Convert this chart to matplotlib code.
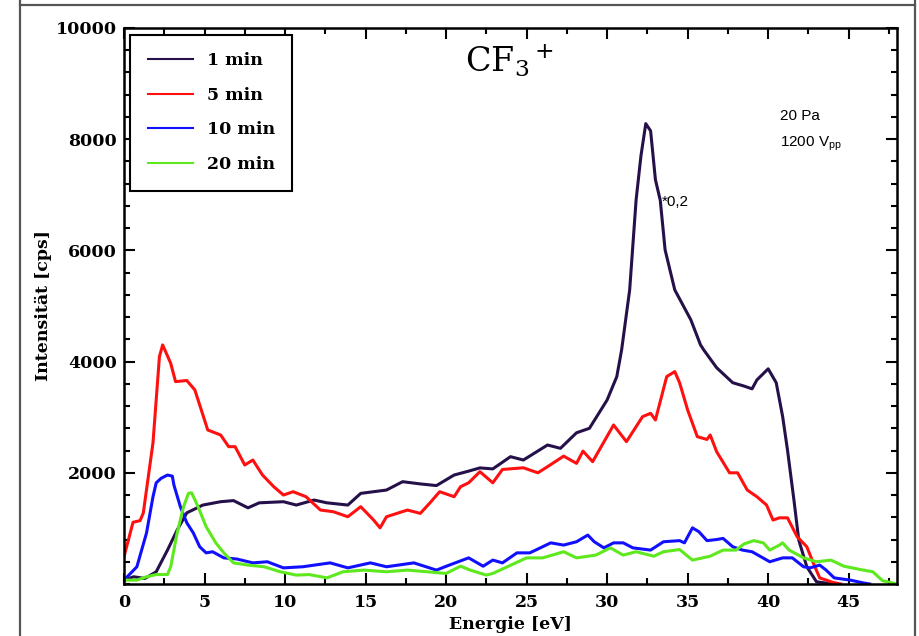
import matplotlib
matplotlib.use("Agg")
import matplotlib.pyplot as plt
from matplotlib.lines import Line2D
from matplotlib.ticker import MultipleLocator

# Energie [eV] / Intensitaet [cps]
e1 = [0, 0.6, 1.3, 2.0, 2.7, 3.3, 3.9, 4.9, 6.0, 6.8, 7.7, 8.4, 9.9, 10.7, 11.8,
      12.6, 13.9, 14.7, 16.3, 17.3, 18.4, 19.4, 20.5, 21.4, 22.1, 22.9, 24.0,
      24.8, 26.3, 27.1, 28.1, 28.9, 30.0, 30.6, 30.9, 31.4, 31.8, 32.1, 32.4,
      32.7, 33.0, 33.3, 33.6, 34.2, 35.2, 35.8, 36.0, 36.8, 37.8, 38.5, 39.0,
      39.3, 40.0, 40.5, 40.9, 41.2, 41.6, 41.9, 42.4, 43.0, 44.0]
i1 = [70, 130, 100, 220, 610, 970, 1280, 1420, 1480, 1500, 1370, 1460, 1480,
      1420, 1510, 1460, 1420, 1630, 1690, 1840, 1800, 1770, 1960, 2030, 2088,
      2070, 2290, 2230, 2500, 2440, 2720, 2800, 3310, 3730, 4210, 5290, 6910,
      7700, 8280, 8150, 7270, 6900, 6010, 5290, 4750, 4300, 4210, 3890, 3620,
      3560, 3510, 3670, 3870, 3620, 3010, 2410, 1510, 790, 310, 40, 0]

e5 = [0, 0.56, 1.0, 1.2, 1.8, 2.2, 2.4, 2.9, 3.2, 3.9, 4.4, 4.7, 5.2, 6.0, 6.5,
      6.9, 7.5, 8.0, 8.6, 9.3, 9.9, 10.5, 11.3, 12.2, 13.0, 13.9, 14.7, 15.5,
      15.9, 16.3, 17.6, 18.4, 19.0, 19.6, 20.5, 20.9, 21.4, 22.1, 22.9, 23.5,
      24.8, 25.7, 26.3, 27.3, 28.1, 28.5, 29.1, 30.4, 31.2, 32.2, 32.7, 33.0,
      33.7, 34.2, 34.5, 35.0, 35.6, 36.2, 36.4, 36.8, 37.6, 38.1, 38.7, 39.3,
      39.9, 40.3, 40.7, 41.2, 41.8, 42.4, 42.8, 43.2, 44.0, 44.5]
i5 = [490, 1110, 1140, 1280, 2540, 4090, 4300, 3970, 3640, 3660, 3490, 3220,
      2770, 2680, 2470, 2470, 2140, 2230, 1960, 1750, 1600, 1660, 1570, 1330,
      1300, 1210, 1390, 1150, 1010, 1210, 1330, 1270, 1460, 1660, 1570, 1750,
      1820, 2020, 1820, 2060, 2090, 2000, 2110, 2300, 2170, 2390, 2200, 2860,
      2560, 3010, 3070, 2950, 3730, 3820, 3620, 3130, 2650, 2600, 2680, 2380,
      2000, 2000, 1690, 1570, 1420, 1150, 1190, 1190, 850, 670, 380, 110, 30, 0]

e10 = [0, 0.8, 1.4, 1.8, 2.0, 2.3, 2.7, 3.0, 3.1, 3.5, 3.9, 4.3, 4.7, 5.1, 5.5,
       6.2, 7.0, 8.0, 8.9, 9.9, 11.1, 12.8, 13.9, 15.3, 16.3, 18.0, 19.4, 20.2,
       21.4, 22.3, 22.9, 23.5, 24.4, 25.2, 26.5, 27.3, 28.1, 28.8, 29.2, 29.8,
       30.4, 31.0, 31.6, 32.7, 33.5, 34.5, 34.8, 35.3, 35.7, 36.2, 36.8, 37.2,
       37.8, 38.4, 39.0, 40.1, 40.9, 41.5, 42.2, 42.6, 43.2, 43.6, 44.1, 45.1,
       45.9, 46.3]
i10 = [70, 310, 920, 1570, 1820, 1900, 1960, 1940, 1780, 1390, 1100, 920, 670,
       560, 580, 470, 450, 380, 400, 290, 310, 380, 290, 380, 310, 380, 250,
       340, 470, 320, 430, 380, 560, 560, 740, 700, 760, 880, 760, 650, 740,
       740, 650, 610, 760, 780, 740, 1010, 940, 780, 800, 820, 670, 610, 580,
       400, 470, 470, 310, 290, 340, 250, 110, 70, 20, 0]

e20 = [0, 0.8, 1.4, 2.0, 2.7, 2.9, 3.3, 3.7, 4.0, 4.2, 4.6, 5.1, 5.7, 6.2, 6.8,
       7.7, 8.7, 9.7, 10.7, 11.5, 12.6, 13.6, 14.9, 16.3, 17.6, 18.8, 20.0,
       20.9, 21.5, 22.5, 22.9, 23.8, 25.0, 26.0, 27.3, 28.1, 29.3, 30.2, 31.0,
       31.8, 32.9, 33.5, 34.5, 35.3, 36.4, 37.2, 38.0, 38.5, 39.1, 39.7, 40.1,
       40.7, 40.9, 41.3, 42.2, 43.0, 43.9, 44.7, 45.9, 46.5, 47.1, 47.7, 48.0]
i20 = [70, 70, 130, 170, 170, 310, 920, 1390, 1630, 1640, 1390, 1030, 740, 560,
       380, 340, 310, 220, 160, 170, 110, 220, 250, 220, 250, 220, 190, 320,
       250, 160, 190, 310, 470, 470, 580, 470, 520, 650, 520, 580, 500, 580,
       620, 430, 500, 610, 610, 720, 780, 740, 610, 700, 740, 610, 470, 400,
       430, 320, 250, 220, 60, 20, 0]

labels = ["1 min", "5 min", "10 min", "20 min"]
colors = ["#25104a", "#ff1010", "#1010ff", "#5ee81e"]
x_ticks = [0, 5, 10, 15, 20, 25, 30, 35, 40, 45]
y_ticks = [2000, 4000, 6000, 8000, 10000]

serif_bold = dict(family="DejaVu Serif", weight="bold", size=12.5)

fig = plt.figure(figsize=(9.19, 6.36), dpi=100)
ax = fig.add_axes([124 / 919, 1 - 584 / 636, 773 / 919, 556 / 636])

# grey frame around the picture
fig.add_artist(Line2D([20 / 919, 20 / 919], [0, 1], color="#555555", lw=1.6))
fig.add_artist(Line2D([915 / 919, 915 / 919], [0, 1], color="#555555", lw=1.6))
fig.add_artist(Line2D([20 / 919, 915 / 919], [1 - 5 / 636, 1 - 5 / 636],
                      color="#555555", lw=1.6))

for e, i, c, lab in zip([e1, e5, e10, e20], [i1, i5, i10, i20], colors, labels):
    ax.plot(e, i, color=c, lw=2.2, label=lab)

ax.set_xlim(0, 48)
ax.set_ylim(0, 10000)
ax.set_xticks(x_ticks)
ax.set_yticks(y_ticks)
ax.xaxis.set_minor_locator(MultipleLocator(2.5))
ax.yaxis.set_minor_locator(MultipleLocator(400))
ax.tick_params(which="both", direction="in", top=True, right=True, width=1.5)
ax.tick_params(which="major", length=8)
ax.tick_params(which="minor", length=4)
ax.tick_params(axis="y", which="major", pad=5)
ax.tick_params(axis="x", which="major", pad=7)
for lbl in ax.get_xticklabels() + ax.get_yticklabels():
    lbl.set_fontproperties(serif_bold)
for s in ax.spines.values():
    s.set_linewidth(1.8)

ax.set_xlabel("Energie [eV]", fontdict=serif_bold, labelpad=4)
ax.set_ylabel("Intensität [cps]", fontdict=serif_bold, labelpad=3)

leg = ax.legend(loc="upper left", bbox_to_anchor=(0.008, 0.988), prop=serif_bold,
                frameon=True, fancybox=False, edgecolor="black", framealpha=1,
                handlelength=2.6, handletextpad=0.8, labelspacing=1.02,
                borderpad=1.0, borderaxespad=0)
leg.get_frame().set_linewidth(1.5)
for h in leg.get_lines():
    h.set_linewidth(1.5)

ax.text(0.499, 0.922, r"$\mathregular{CF_3{}^+}$", transform=ax.transAxes,
        ha="center", va="baseline", fontsize=24, family="DejaVu Serif")
ax.text(0.848, 0.835, "20 Pa", transform=ax.transAxes, fontsize=11,
        family="Liberation Sans")
ax.text(0.848, 0.787, r"1200 V$_\mathregular{pp}$", transform=ax.transAxes,
        fontsize=11, family="Liberation Sans")
ax.text(33.4, 6800, "*0,2", fontsize=11, family="Liberation Sans")

fig.savefig("out.png", dpi=100)
